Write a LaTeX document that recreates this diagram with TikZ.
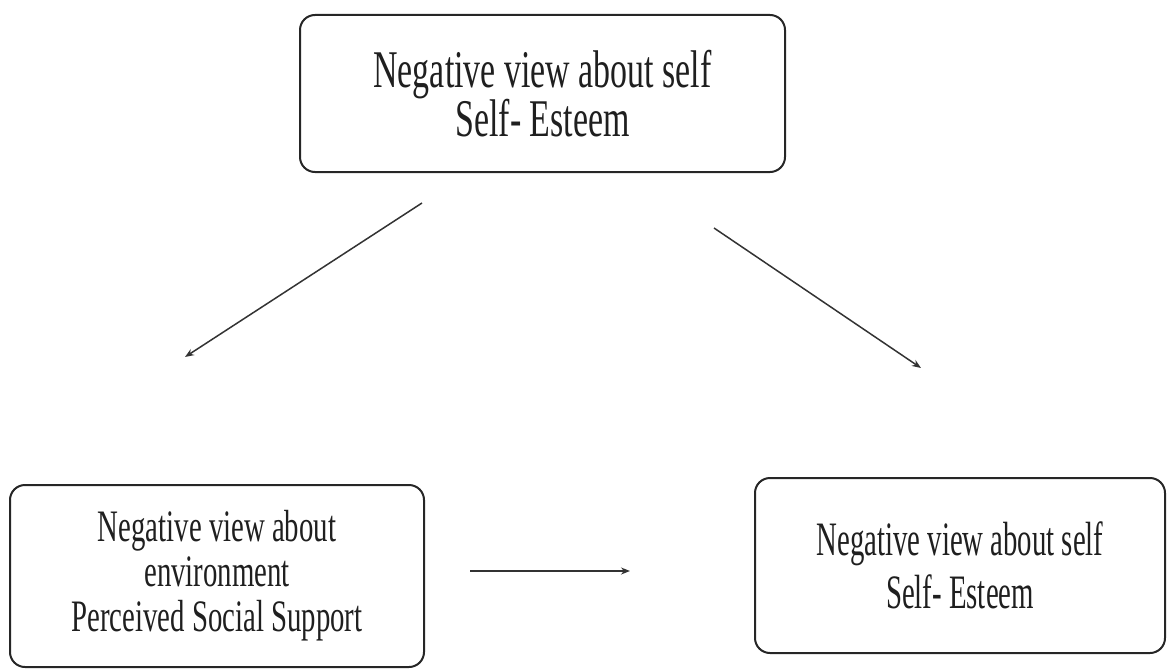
\documentclass[tikz,border=0pt]{standalone}
\usepackage{fontspec}
\setmainfont{Liberation Serif}
\newfontfamily\topfont[FakeStretch=0.64]{Liberation Serif}
\newfontfamily\leftfont[FakeStretch=0.64]{Liberation Serif}
\newfontfamily\rightfont[FakeStretch=0.6]{Liberation Serif}
\usetikzlibrary{arrows.meta}
\begin{document}
\begin{tikzpicture}[x=1pt,y=-1pt,
  box/.style={draw=black!85, line width=2pt, rounded corners=15pt, inner sep=0pt, align=center, text=black!88},
  conn/.style={draw=black!80, line width=1.5pt, -{Stealth[length=9pt,width=7pt]}}]
\useasboundingbox (0,0) rectangle (1167,669);
\node[box, minimum width=485pt, minimum height=157pt, font={\topfont\fontsize{53}{46}\selectfont}] (top) at (542.5,93.5)
  {Negative view about self\\Self- Esteem};
\node[box, minimum width=414pt, minimum height=182pt, font={\leftfont\fontsize{45}{45}\selectfont}] (left) at (217,576)
  {Negative view about\\environment\\Perceived Social Support};
\node[box, minimum width=410pt, minimum height=175pt, font={\rightfont\fontsize{48}{53}\selectfont}] (right) at (960,565.5)
  {Negative view about self\\Self- Esteem};
\coordinate (a1s) at (422,203);
\coordinate (a1e) at (185,357);
\coordinate (a2s) at (714,228);
\coordinate (a2e) at (921,368);
\coordinate (a3s) at (470,571);
\coordinate (a3e) at (630,571);
\draw[conn] (a1s) -- (a1e);
\draw[conn] (a2s) -- (a2e);
\draw[conn] (a3s) -- (a3e);
\end{tikzpicture}
\end{document}
